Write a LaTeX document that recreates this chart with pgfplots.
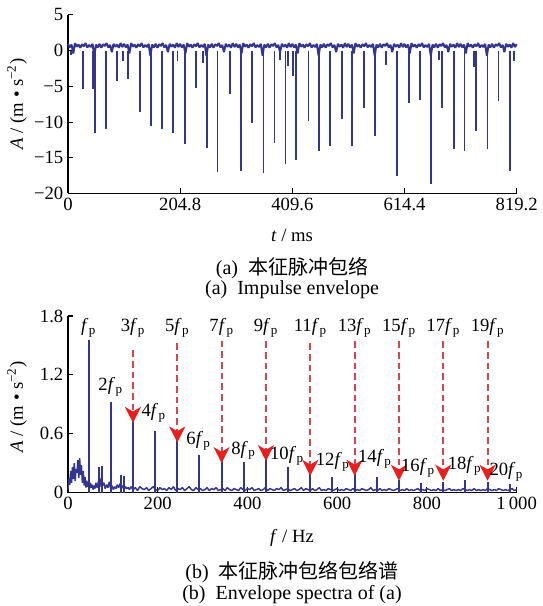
\documentclass[border=0pt]{standalone}
\usepackage{fontspec}
\setmainfont{Liberation Serif}
\newfontfamily\cjk{Noto Sans CJK SC}
\usepackage{pgfplots}
\pgfplotsset{compat=1.18}
\usetikzlibrary{arrows.meta}
\definecolor{navy}{RGB}{52,52,145}
\definecolor{dashred}{RGB}{210,70,85}
\definecolor{headred}{RGB}{235,30,30}
\newcommand{\fp}[1]{#1\textit{f}\kern0.3pt\textsubscript{p}}
\begin{document}
\begin{tikzpicture}
\useasboundingbox (0,0) rectangle (406.5pt,454.5pt);
\pgfplotsset{myaxis/.style={scale only axis, axis lines*=left,
  axis line style={-, line width=0.8pt}, tick align=inside, major tick length=4pt,
  tick style={line width=0.8pt, black},
  every tick label/.append style={font=\rmfamily\fontsize{14}{16}\selectfont},
  clip=false, /pgf/number format/assume math mode=true}}

% ---------------- top: impulse envelope ----------------
\begin{axis}[myaxis, at={(51pt,309.4pt)}, anchor=south west,
  width=336.5pt, height=133.9pt,
  xmin=0, xmax=819.2, ymin=-20, ymax=5,
  xtick={0,204.8,409.6,614.4,819.2}, xticklabels={0,204.8,409.6,614.4,819.2},
  ytick={-20,-15,-10,-5,0,5}, yticklabels={−20,−15,−10,−5,0,5}]
\addplot[navy, line width=1.5pt, line join=bevel] coordinates {
(0,0.95)(3.2,0.45)(6.4,0.85)(9.6,-0.4)(12.8,1.05)(16,0.55)(19.2,0.85)(22.4,0.40)
(25.6,0.90)(28.8,0.60)(32,1.05)(35.2,0.45)(38.4,0.80)(41.6,0.50)(44.8,0.95)(48,-0.7)
(51.2,0.85)(54.4,0.45)(57.6,0.95)(60.8,0.40)(64,0.90)(67.2,0.65)(70.4,1.05)(73.6,0.45)
(76.8,0.80)(80,-0.2)(83.2,0.95)(86.4,0.55)(89.6,0.85)(92.8,0.40)(96,1.05)(99.2,0.50)
(102.4,0.95)(105.6,0.45)(108.8,0.85)(112,-0.4)(115.2,1.05)(118.4,0.55)(121.6,0.85)(124.8,0.40)
(128,0.90)(131.2,0.60)(134.4,1.05)(137.6,0.45)(140.8,0.80)(144,0.50)(147.2,0.95)(150.4,-0.7)
(153.6,0.85)(156.8,0.45)(160,0.95)(163.2,0.40)(166.4,0.90)(169.6,0.65)(172.8,1.05)(176,0.45)
(179.2,0.80)(182.4,-0.2)(185.6,0.95)(188.8,0.55)(192,0.85)(195.2,0.40)(198.4,1.05)(201.6,0.50)
(204.8,0.95)(208,0.45)(211.2,0.85)(214.4,-0.4)(217.6,1.05)(220.8,0.55)(224,0.85)(227.2,0.40)
(230.4,0.90)(233.6,0.60)(236.8,1.05)(240,0.45)(243.2,0.80)(246.4,0.50)(249.6,0.95)(252.8,-0.7)
(256,0.85)(259.2,0.45)(262.4,0.95)(265.6,0.40)(268.8,0.90)(272,0.65)(275.2,1.05)(278.4,0.45)
(281.6,0.80)(284.8,-0.2)(288,0.95)(291.2,0.55)(294.4,0.85)(297.6,0.40)(300.8,1.05)(304,0.50)
(307.2,0.95)(310.4,0.45)(313.6,0.85)(316.8,-0.4)(320,1.05)(323.2,0.55)(326.4,0.85)(329.6,0.40)
(332.8,0.90)(336,0.60)(339.2,1.05)(342.4,0.45)(345.6,0.80)(348.8,0.50)(352,0.95)(355.2,-0.7)
(358.4,0.85)(361.6,0.45)(364.8,0.95)(368,0.40)(371.2,0.90)(374.4,0.65)(377.6,1.05)(380.8,0.45)
(384,0.80)(387.2,-0.2)(390.4,0.95)(393.6,0.55)(396.8,0.85)(400,0.40)(403.2,1.05)(406.4,0.50)
(409.6,0.95)(412.8,0.45)(416,0.85)(419.2,-0.4)(422.4,1.05)(425.6,0.55)(428.8,0.85)(432,0.40)
(435.2,0.90)(438.4,0.60)(441.6,1.05)(444.8,0.45)(448,0.80)(451.2,0.50)(454.4,0.95)(457.6,-0.7)
(460.8,0.85)(464,0.45)(467.2,0.95)(470.4,0.40)(473.6,0.90)(476.8,0.65)(480,1.05)(483.2,0.45)
(486.4,0.80)(489.6,-0.2)(492.8,0.95)(496,0.55)(499.2,0.85)(502.4,0.40)(505.6,1.05)(508.8,0.50)
(512,0.95)(515.2,0.45)(518.4,0.85)(521.6,-0.4)(524.8,1.05)(528,0.55)(531.2,0.85)(534.4,0.40)
(537.6,0.90)(540.8,0.60)(544,1.05)(547.2,0.45)(550.4,0.80)(553.6,0.50)(556.8,0.95)(560,-0.7)
(563.2,0.85)(566.4,0.45)(569.6,0.95)(572.8,0.40)(576,0.90)(579.2,0.65)(582.4,1.05)(585.6,0.45)
(588.8,0.80)(592,-0.2)(595.2,0.95)(598.4,0.55)(601.6,0.85)(604.8,0.40)(608,1.05)(611.2,0.50)
(614.4,0.95)(617.6,0.45)(620.8,0.85)(624,-0.4)(627.2,1.05)(630.4,0.55)(633.6,0.85)(636.8,0.40)
(640,0.90)(643.2,0.60)(646.4,1.05)(649.6,0.45)(652.8,0.80)(656,0.50)(659.2,0.95)(662.4,-0.7)
(665.6,0.85)(668.8,0.45)(672,0.95)(675.2,0.40)(678.4,0.90)(681.6,0.65)(684.8,1.05)(688,0.45)
(691.2,0.80)(694.4,-0.2)(697.6,0.95)(700.8,0.55)(704,0.85)(707.2,0.40)(710.4,1.05)(713.6,0.50)
(716.8,0.95)(720,0.45)(723.2,0.85)(726.4,-0.4)(729.6,1.05)(732.8,0.55)(736,0.85)(739.2,0.40)
(742.4,0.90)(745.6,0.60)(748.8,1.05)(752,0.45)(755.2,0.80)(758.4,0.50)(761.6,0.95)(764.8,-0.7)
(768,0.85)(771.2,0.45)(774.4,0.95)(777.6,0.40)(780.8,0.90)(784,0.65)(787.2,1.05)(790.4,0.45)
(793.6,0.80)(796.8,-0.2)(800,0.95)(803.2,0.55)(806.4,0.85)(809.6,0.40)(812.8,1.05)(816,0.50)
(819.2,0.90)};
\addplot[navy, line width=1.4pt, ycomb] coordinates {
(5,-0.6)(27,-5.4)(45,-5.4)(49,-11.5)(69,-11.0)(90,-4.3)(100,-1.5)(110,-4.0)
(131,-8.6)(151,-10.6)(172,-11.0)(192,-11.6)(200,-1.5)(213,-13.1)(234,-5.2)(247,-1.7)
(254,-13.7)(273,-17.0)(295,-6.1)(316,-16.9)(336,-10.1)(357,-17.2)(377,-12.9)(387,-1.3)
(397,-15.9)(401,-2.2)(411,-3.5)(417,-15.3)(439,-9.8)(459,-14.0)(479,-13.4)(500,-9.6)
(519,-13.4)(540,-8.0)(560,-12.0)(581,-2.0)(601,-17.5)(622,-7.4)(642,-6.9)(663,-18.7)
(677,-1.3)(683,-8.0)(704,-13.8)(724,-14.0)(741,-2.3)(745,-11.2)(766,-13.8)(786,-7.1)
(807,-16.8)(814,-1.5)};
\end{axis}

% ---------------- bottom: envelope spectrum ----------------
\begin{axis}[myaxis, at={(51pt,85.1pt)}, anchor=south west,
  width=336.5pt, height=132.4pt,
  xmin=0, xmax=1000, ymin=0, ymax=1.8,
  xtick={0,200,400,600,800,1000}, xticklabels={0,200,400,600,800,1\,000},
  ytick={0,0.6,1.2,1.8}, yticklabels={0,0.6,1.2,1.8}]
\addplot[navy, line width=1.1pt, line join=bevel] coordinates {
(0,0.03)(2,0.15)(4,0.08)(6,0.22)(8,0.10)(10,0.26)(12,0.14)(14,0.30)(16,0.12)(18,0.24)
(20,0.20)(22,0.33)(24,0.15)(26,0.35)(28,0.18)(30,0.28)(32,0.10)(34,0.22)(36,0.07)(38,0.16)
(40,0.05)(42,0.12)(44,0.06)(46,0.09)(48,0.04)(50,0.10)(52,0.05)(54,0.08)(56,0.03)(58,0.07)(60,0.04)
(62,0.10)(65,0.05)(68,0.12)(71,0.06)(74,0.15)(77,0.07)(80,0.10)(83,0.04)(86,0.08)(89,0.05)
(92,0.11)(95,0.04)(98,0.07)(101,0.03)(104,0.06)(107,0.04)(110,0.08)(113,0.05)(116,0.09)(119,0.04)
(122,0.07)(125,0.03)(128,0.06)(131,0.04)(134,0.05)(137,0.03)(140,0.06)
(145,0.03)(150,0.05)(155,0.02)(160,0.06)(165,0.04)(170,0.03)(175,0.05)(180,0.02)(185,0.04)(190,0.06)
(195,0.03)(200,0.02)(205,0.05)(210,0.03)(215,0.04)(220,0.02)(225,0.05)(230,0.03)(235,0.06)(240,0.02)
(245,0.04)(250,0.03)(255,0.05)(260,0.02)(265,0.04)(270,0.06)(275,0.03)(280,0.02)(285,0.05)(290,0.03)
(295,0.04)(300,0.02)(305,0.03)(310,0.05)(315,0.02)(320,0.04)(325,0.03)(330,0.05)(335,0.02)(340,0.03)
(345,0.04)(350,0.02)(355,0.05)(360,0.03)(365,0.02)(370,0.04)(375,0.03)(380,0.02)(385,0.05)(390,0.03)
(395,0.02)(400,0.04)(405,0.03)(410,0.05)(415,0.02)(420,0.03)(425,0.04)(430,0.02)(435,0.03)(440,0.05)
(445,0.02)(450,0.04)(455,0.03)(460,0.02)(465,0.04)(470,0.03)(475,0.05)(480,0.02)(485,0.03)(490,0.04)
(495,0.02)(500,0.03)(505,0.04)(510,0.02)(515,0.03)(520,0.05)(525,0.02)(530,0.04)(535,0.03)(540,0.02)
(545,0.04)(550,0.02)(555,0.03)(560,0.05)(565,0.02)(570,0.03)(575,0.02)(580,0.04)(585,0.03)(590,0.02)
(595,0.03)(600,0.04)(605,0.02)(610,0.03)(615,0.02)(620,0.04)(625,0.03)(630,0.02)(635,0.04)(640,0.02)
(645,0.03)(650,0.02)(655,0.04)(660,0.03)(665,0.02)(670,0.03)(675,0.05)(680,0.02)(685,0.03)(690,0.02)
(695,0.04)(700,0.02)(705,0.03)(710,0.02)(715,0.04)(720,0.03)(725,0.02)(730,0.03)(735,0.04)(740,0.02)
(745,0.03)(750,0.02)(755,0.04)(760,0.02)(765,0.03)(770,0.02)(775,0.03)(780,0.04)(785,0.02)(790,0.03)
(795,0.02)(800,0.04)(805,0.03)(810,0.02)(815,0.03)(820,0.02)(825,0.04)(830,0.02)(835,0.03)(840,0.02)
(845,0.03)(850,0.04)(855,0.02)(860,0.03)(865,0.02)(870,0.03)(875,0.02)(880,0.04)(885,0.03)(890,0.02)
(895,0.03)(900,0.02)(905,0.04)(910,0.02)(915,0.03)(920,0.02)(925,0.03)(930,0.02)(935,0.04)(940,0.03)
(945,0.02)(950,0.03)(955,0.02)(960,0.04)(965,0.03)(970,0.02)(975,0.03)(980,0.02)(985,0.03)(990,0.04)
(995,0.02)(1000,0.03)};
\addplot[navy, line width=1.5pt, ycomb] coordinates {
(46,1.56)(68,0.26)(76,0.27)(94.8,0.92)(118,0.18)(125,0.17)(144.8,0.73)(194.2,0.63)
(243.6,0.55)(293,0.38)(342.4,0.32)(391.8,0.31)(441.2,0.34)(490.6,0.26)(540,0.20)(589.4,0.16)
(638.8,0.19)(688.2,0.16)(737.6,0.13)(787,0.10)(836.4,0.11)(885.8,0.13)(935.2,0.11)(984.6,0.09)};
% arrows
\pgfplotsset{arr/.style={dashred, line width=1.6pt, dash pattern=on 5pt off 3pt,
  -{Stealth[length=12pt, width=12pt, inset=3.5pt, color=headred, sep=0pt]}}}
\addplot[arr] coordinates {(144.8,1.45)(144.8,0.71)};
\addplot[arr] coordinates {(243.6,1.52)(243.6,0.51)};
\addplot[arr] coordinates {(342.4,1.55)(342.4,0.30)};
\addplot[arr] coordinates {(441.2,1.54)(441.2,0.32)};
\addplot[arr] coordinates {(540,1.52)(540,0.17)};
\addplot[arr] coordinates {(638.8,1.54)(638.8,0.17)};
\addplot[arr] coordinates {(737.6,1.54)(737.6,0.12)};
\addplot[arr] coordinates {(836.4,1.54)(836.4,0.12)};
\addplot[arr] coordinates {(935.2,1.54)(935.2,0.12)};
% labels
\begin{scope}[every node/.style={font=\rmfamily\fontsize{14}{16}\selectfont, inner sep=0pt}]
\node at (axis cs:46,1.68) {\fp{}};
\node at (axis cs:144.8,1.68) {\fp{3}};
\node at (axis cs:243.6,1.68) {\fp{5}};
\node at (axis cs:342.4,1.68) {\fp{7}};
\node at (axis cs:441.2,1.68) {\fp{9}};
\node at (axis cs:540,1.68) {\fp{11}};
\node at (axis cs:638.8,1.68) {\fp{13}};
\node at (axis cs:737.6,1.68) {\fp{15}};
\node at (axis cs:836.4,1.68) {\fp{17}};
\node at (axis cs:935.2,1.68) {\fp{19}};
\node at (axis cs:95,1.08) {\fp{2}};
\node at (axis cs:191,0.81) {\fp{4}};
\node at (axis cs:291,0.53) {\fp{6}};
\node at (axis cs:391,0.43) {\fp{8}};
\node at (axis cs:488,0.37) {\fp{10}};
\node at (axis cs:590,0.31) {\fp{12}};
\node at (axis cs:684,0.34) {\fp{14}};
\node at (axis cs:780,0.25) {\fp{16}};
\node at (axis cs:884,0.27) {\fp{18}};
\node at (axis cs:977,0.21) {\fp{20}};
\end{scope}
\end{axis}

% ---------------- labels and captions ----------------
\begin{scope}[every node/.style={inner sep=0pt}]
\node[rotate=90, font=\rmfamily\fontsize{14}{16}\selectfont] at (12.75pt,376.5pt) {\textit{A} / (m • s\textsuperscript{−2})};
\node[rotate=90, font=\rmfamily\fontsize{14}{16}\selectfont] at (12.75pt,149.25pt) {\textit{A} / (m • s\textsuperscript{−2})};
\node[font=\rmfamily\fontsize{14}{16}\selectfont] at (219pt,278.25pt) {\textit{t} / ms};
\node[font=\rmfamily\fontsize{15}{17}\selectfont] at (219pt,253.5pt) {(a)\enspace{\cjk 本征脉冲包络}};
\node[font=\rmfamily\fontsize{15}{17}\selectfont] at (219pt,237pt) {(a)\enspace Impulse envelope};
\node[font=\rmfamily\fontsize{14}{16}\selectfont] at (219pt,51pt) {\textit{f} / Hz};
\node[font=\rmfamily\fontsize{15}{17}\selectfont] at (219pt,25.7pt) {(b)\enspace{\cjk 本征脉冲包络包络谱}};
\node[font=\rmfamily\fontsize{15}{17}\selectfont] at (219pt,8.25pt) {(b)\enspace Envelope spectra of (a)};
\end{scope}
\end{tikzpicture}
\end{document}
